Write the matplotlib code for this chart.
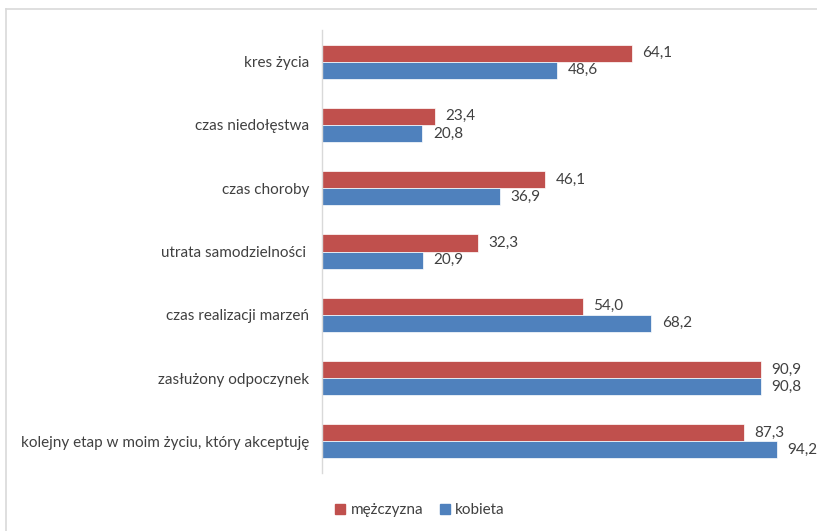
import matplotlib
matplotlib.use("Agg")
import matplotlib.pyplot as plt
import numpy as np
from matplotlib.lines import Line2D
from matplotlib.patches import Patch

categories = ["kres życia", "czas niedołęstwa", "czas choroby", "utrata samodzielności ",
              "czas realizacji marzeń", "zasłużony odpoczynek",
              "kolejny etap w moim życiu, który akceptuję"]
men = [64.1, 23.4, 46.1, 32.3, 54.0, 90.9, 87.3]
women = [48.6, 20.8, 36.9, 20.9, 68.2, 90.8, 94.2]
series_names = ["mężczyzna", "kobieta"]

plt.rcParams['font.family'] = ['Lato', 'DejaVu Sans']
txt = '#404040'
red = '#C0504D'
blue = '#4F81BD'
fs = 11

fig = plt.figure(figsize=(8.17, 5.31), dpi=100)
ax = fig.add_axes([322/817, 1-473/531, 483/817, (473-30)/531])

y = np.arange(len(categories))
h = 0.27
ax.barh(y - h/2, men, height=h, color=red, edgecolor='white', linewidth=0.5)
ax.barh(y + h/2, women, height=h, color=blue, edgecolor='white', linewidth=0.5)

def fmt(v):
    return f"{v:.1f}".replace('.', ',')

for yi, v in zip(y, men):
    ax.text(v + 2.2, yi - h/2, fmt(v), va='center', ha='left', fontsize=fs, color=txt)
for yi, v in zip(y, women):
    ax.text(v + 2.2, yi + h/2, fmt(v), va='center', ha='left', fontsize=fs, color=txt)

ax.set_xlim(0, 100)
ax.set_ylim(len(categories) - 0.5, -0.5)
ax.set_yticks(y)
ax.set_yticklabels(categories, fontsize=fs, color=txt)
ax.tick_params(axis='y', length=0, pad=9)
ax.set_xticks([])
for s in ['top', 'right', 'bottom']:
    ax.spines[s].set_visible(False)
ax.spines['left'].set_color('#D9D9D9')
ax.spines['left'].set_linewidth(1)

# chart border (top and left visible)
fig.add_artist(Line2D([6/817, 1], [1-9/531, 1-9/531], color='#D9D9D9', lw=1.2, transform=fig.transFigure))
fig.add_artist(Line2D([6/817, 6/817], [0, 1-9/531], color='#D9D9D9', lw=1.2, transform=fig.transFigure))

handles = [Patch(color=red), Patch(color=blue)]
fig.legend(handles, series_names, loc='center', bbox_to_anchor=(420/817, 1-510/531),
           ncol=2, frameon=False, fontsize=fs, handlelength=0.65, handleheight=0.65,
           handletextpad=0.35, columnspacing=1.1, labelcolor=txt)

fig.savefig("out.png", dpi=100)
